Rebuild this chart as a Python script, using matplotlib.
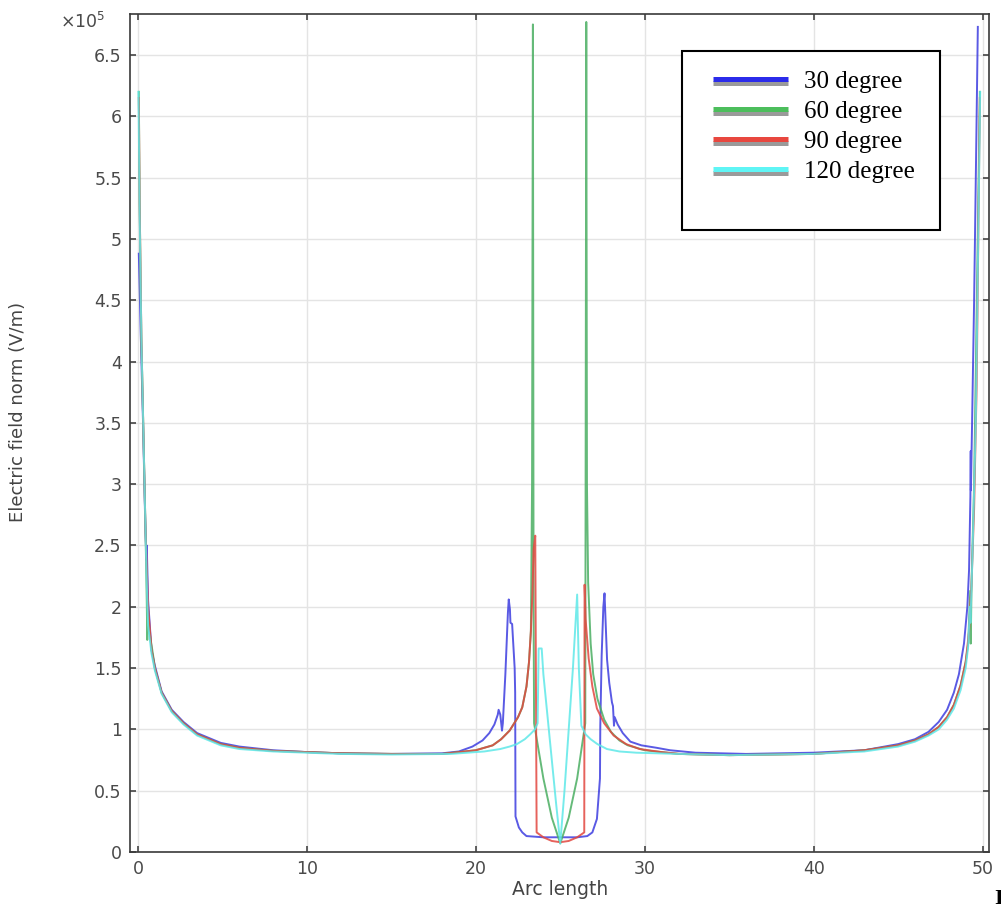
import matplotlib
matplotlib.use("Agg")
import matplotlib.pyplot as plt
import matplotlib.patheffects as pe
from matplotlib.lines import Line2D
from matplotlib.patches import Rectangle

# Arc length and electric field norm (units of 1e5 V/m)
x_30 = [0.05, 0.15, 0.3, 0.42, 0.45, 0.5, 0.52, 0.6, 0.8, 1.0, 1.4, 2.0, 2.7, 3.5, 4.9, 6.0, 8.0,
        10.0, 12.0, 15.0, 18.0, 19.0, 19.8, 20.4, 20.8, 21.1, 21.3, 21.35, 21.45, 21.55, 21.6,
        21.75, 21.9, 21.95, 22.02, 22.05, 22.15, 22.3, 22.33, 22.35, 22.55, 22.75, 23.0, 24.0,
        25.0, 26.0, 26.6, 26.9, 27.17, 27.35, 27.37, 27.45, 27.55, 27.62, 27.77, 27.9, 28.06,
        28.12, 28.18, 28.22, 28.4, 28.7, 29.15, 29.8, 30.7, 31.5, 33.0, 36.0, 40.0, 43.0, 45.0,
        46.0, 46.8, 47.4, 47.9, 48.3, 48.6, 48.9, 49.1, 49.2, 49.28, 49.3, 49.31, 49.38, 49.5,
        49.62, 49.72]
y_30 = [4.88, 4.3, 3.5, 2.75, 2.6, 2.38, 2.5, 2.05, 1.65, 1.52, 1.31, 1.16, 1.06, 0.97, 0.89, 0.86,
        0.83, 0.815, 0.805, 0.80, 0.805, 0.82, 0.86, 0.91, 0.97, 1.04, 1.12, 1.16, 1.12, 0.99,
        1.05, 1.45, 1.95, 2.06, 1.98, 1.87, 1.86, 1.5, 1.3, 0.29, 0.2, 0.16, 0.13, 0.12,
        0.12, 0.12, 0.13, 0.16, 0.27, 0.6, 1.03, 1.6, 2.0, 2.11, 1.57, 1.38, 1.22,
        1.19, 1.03, 1.1, 1.04, 0.97, 0.9, 0.87, 0.85, 0.83, 0.81, 0.80, 0.81, 0.83, 0.88,
        0.92, 0.98, 1.06, 1.16, 1.3, 1.45, 1.7, 2.0, 2.3, 2.9, 3.27, 2.95, 3.5, 4.5,
        5.7, 6.73]

x_60 = [0.05, 0.1, 0.2, 0.31, 0.45, 0.52, 0.55, 0.58, 0.7, 0.9, 1.0, 1.4, 2.0, 2.7, 3.5, 4.9,
        6.0, 8.0, 10.0, 12.0, 15.0, 18.0, 20.0, 21.0, 21.5, 22.0, 22.5, 22.75, 23.0, 23.15,
        23.26, 23.33, 23.38, 23.42, 23.45, 24.0, 24.5, 25.0, 25.5, 26.0, 26.48, 26.54, 26.58,
        26.65, 26.8, 26.95, 27.2, 27.6, 28.0, 28.5, 29.0, 30.0, 31.0, 32.0, 35.0, 40.0, 43.0,
        45.0, 46.0, 46.8, 47.4, 47.9, 48.3, 48.7, 49.0, 49.15, 49.27, 49.3, 49.35, 49.5, 49.65,
        49.84]
y_60 = [6.2, 5.3, 4.2, 3.5, 2.6, 2.05, 1.73, 1.95, 1.78, 1.6, 1.5, 1.3, 1.15, 1.05, 0.96, 0.88,
        0.85, 0.825, 0.815, 0.805, 0.80, 0.80, 0.83, 0.87, 0.92, 0.99, 1.1, 1.18, 1.35, 1.55,
        1.8, 3.0, 6.75, 2.0, 1.05, 0.6, 0.28, 0.07, 0.28, 0.6, 1.05, 6.77, 3.0,
        2.2, 1.7, 1.45, 1.25, 1.08, 0.98, 0.91, 0.87, 0.83, 0.815, 0.80, 0.79, 0.80, 0.83,
        0.87, 0.91, 0.96, 1.02, 1.1, 1.2, 1.36, 1.55, 1.7, 2.13, 1.7, 2.2, 3.0, 4.4,
        6.2]

x_90 = [0.05, 0.1, 0.2, 0.31, 0.45, 0.6, 0.8, 1.0, 1.4, 2.0, 2.7, 3.5, 4.9, 6.0, 8.0, 10.0,
        12.0, 15.0, 18.0, 20.0, 21.0, 21.5, 22.0, 22.5, 22.75, 23.0, 23.15, 23.26, 23.35, 23.42,
        23.52, 23.6, 24.0, 24.5, 25.0, 25.5, 26.0, 26.42, 26.44, 26.5, 26.68, 26.9, 27.17, 27.6,
        28.16, 28.9, 29.7, 31.0, 32.1, 35.0, 40.0, 43.0, 45.0, 46.0, 46.8, 47.4, 47.9, 48.3,
        48.7, 49.0, 49.2, 49.35, 49.5, 49.65, 49.84]
y_90 = [6.15, 5.3, 4.2, 3.5, 2.6, 2.0, 1.65, 1.5, 1.3, 1.15, 1.05, 0.96, 0.88, 0.85, 0.825, 0.815,
        0.805, 0.80, 0.80, 0.83, 0.87, 0.92, 0.99, 1.1, 1.18, 1.35, 1.55, 1.8, 2.1, 2.47,
        2.58, 0.16, 0.12, 0.09, 0.08, 0.09, 0.12, 0.16, 2.18, 1.9, 1.58, 1.35, 1.17, 1.05,
        0.95, 0.88, 0.84, 0.815, 0.80, 0.79, 0.80, 0.83, 0.87, 0.91, 0.96, 1.02, 1.1, 1.2,
        1.36, 1.55, 1.8, 2.2, 2.8, 3.8, 6.15]

x_120 = [0.03, 0.1, 0.2, 0.31, 0.45, 0.5, 0.55, 0.6, 0.8, 1.0, 1.4, 2.0, 2.7, 3.5, 4.9, 6.0, 8.0,
         10.0, 12.0, 15.0, 18.5, 20.5, 21.45, 22.0, 22.43, 22.9, 23.22, 23.5, 23.66, 23.72, 23.9,
         24.0, 24.25, 24.5, 24.75, 25.0, 25.25, 25.5, 25.75, 26.0, 26.1, 26.25, 26.5, 26.8,
         27.2, 27.76, 28.5, 29.5, 32.0, 35.0, 40.0, 43.0, 45.0, 46.0, 46.8, 47.4, 47.9, 48.3,
         48.7, 49.0, 49.15, 49.25, 49.28, 49.4, 49.6, 49.86]
y_120 = [6.2, 5.2, 4.2, 3.5, 2.6, 2.3, 2.06, 1.85, 1.62, 1.48, 1.29, 1.14, 1.04, 0.95, 0.87, 0.84,
         0.82, 0.81, 0.80, 0.795, 0.80, 0.82, 0.84, 0.86, 0.88, 0.92, 0.96, 1.0, 1.05, 1.66,
         1.66, 1.45, 1.1, 0.75, 0.4, 0.07, 0.5, 1.0, 1.5, 2.1, 1.5, 1.03, 0.96, 0.92,
         0.88, 0.84, 0.82, 0.81, 0.80, 0.79, 0.80, 0.82, 0.86, 0.9, 0.95, 1.0, 1.08, 1.17,
         1.32, 1.5, 1.68, 2.0, 1.87, 2.4, 3.5, 6.2]

series = [
    ("30 degree", x_30, y_30, "#3d3de0", "#2b2bea"),
    ("60 degree", x_60, y_60, "#4aae62", "#4cbe5c"),
    ("90 degree", x_90, y_90, "#e2473f", "#e8473f"),
    ("120 degree", x_120, y_120, "#5ee8e8", "#5ff5f5"),
]

x_ticks = [0, 10, 20, 30, 40, 50]
y_ticks = [0, 0.5, 1, 1.5, 2, 2.5, 3, 3.5, 4, 4.5, 5, 5.5, 6, 6.5]
y_tick_labels = ["0", "0.5", "1", "1.5", "2", "2.5", "3", "3.5", "4", "4.5", "5", "5.5", "6", "6.5"]

fig = plt.figure(figsize=(10.01, 9.09), dpi=100)
ax = fig.add_axes([0.1299, 0.0627, 0.8586, 0.9219])

for label, xs, ys, color, _ in series:
    ax.plot(xs, ys, color=color, linewidth=1.4, alpha=0.85)

ax.set_xlim(-0.47, 50.41)
ax.set_ylim(0, 6.835)
ax.set_xticks(x_ticks)
ax.set_yticks(y_ticks)
ax.set_yticklabels(y_tick_labels)
ax.tick_params(direction="in", length=4, width=1.2, top=True, right=True,
               labelsize=12.5, labelcolor="#4a4a4a", color="#444444", pad=6)
ax.set_axisbelow(True)
ax.grid(True, color="#e4e4e4", linewidth=1.0)
for spine in ax.spines.values():
    spine.set_color("#3a3a3a")
    spine.set_linewidth(1.2)

ax.set_xlabel("Arc length", fontsize=13.5, color="#444444", labelpad=1)
ax.set_ylabel("Electric field norm (V/m)", fontsize=13, color="#444444")
ax.yaxis.set_label_coords(-0.12, 0.525)
ax.text(-0.029, 0.99, r"$\times10^{5}$", transform=ax.transAxes, ha="right", va="center",
        fontsize=12.5, color="#4a4a4a")

# legend box with extra room at the bottom, as in the original
ax.add_patch(Rectangle((0.642, 0.7422), 0.3004, 0.214, transform=ax.transAxes,
                       facecolor="white", edgecolor="black", linewidth=1.5, zorder=5))
handles = []
for label, _, _, _, lcolor in series:
    handles.append(Line2D([0], [0], color=lcolor, linewidth=3.6, solid_capstyle="butt",
                          path_effects=[pe.SimpleLineShadow(offset=(0, -3), shadow_color="#9a9a9a",
                                                            alpha=1.0),
                                        pe.Normal()]))
leg = ax.legend(handles, [s[0] for s in series], loc="upper left", bbox_to_anchor=(0.664, 0.948),
                frameon=False, borderpad=0, handlelength=3.0, handletextpad=0.65,
                labelspacing=0.3, prop={"family": "Liberation Serif", "size": 18})
leg.set_zorder(6)

fig.text(0.993, 0.0, "I", fontsize=16, fontweight="bold", family="Liberation Serif",
         ha="left", va="bottom", color="black")

fig.savefig("out.png", dpi=100)
